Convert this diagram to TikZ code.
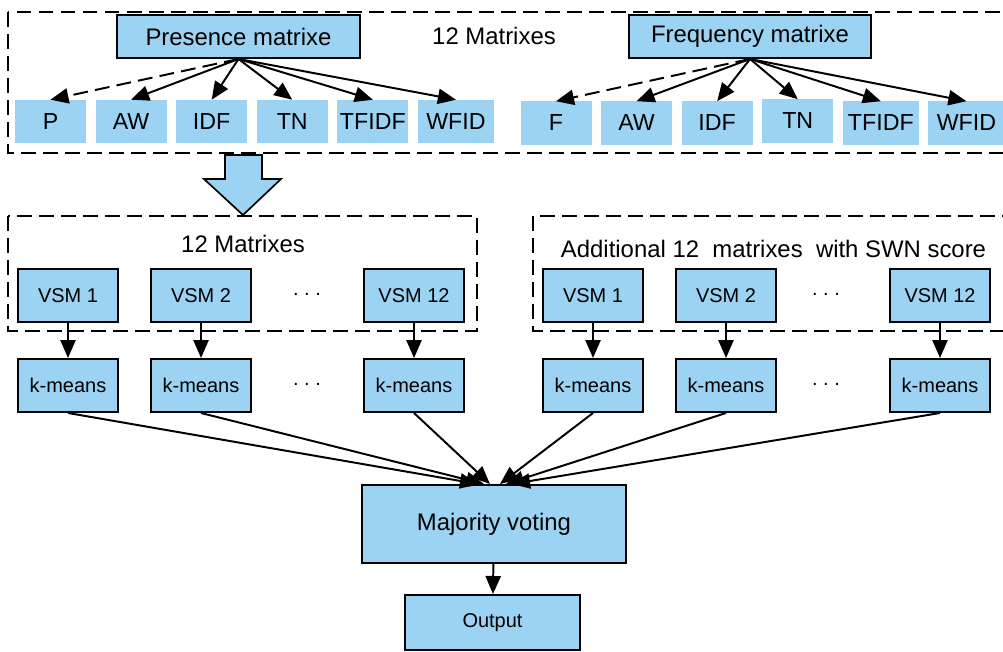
\documentclass[tikz,border=0pt]{standalone}
\usepackage{fontspec}
\setmainfont{Liberation Sans}
\usetikzlibrary{arrows.meta,positioning}
\definecolor{boxblue}{RGB}{157,211,242}
\tikzset{
    %Define style for the two source matrices
    parent/.style={
           draw, fill=boxblue, line width=1.4pt,
           minimum width=6.05cm, minimum height=1.075cm, inner sep=0pt,
           font=\fontsize{17}{20}\selectfont},
    %Define style for the weighting boxes
    leaf/.style={
           fill=boxblue,
           minimum width=1.775cm, minimum height=1.075cm, inner sep=0pt,
           font=\fontsize{16.5}{20}\selectfont},
    %Define style for VSM and k-means boxes
    vsm/.style={
           draw, fill=boxblue, line width=1.4pt,
           minimum width=2.5cm, minimum height=1.325cm, inner sep=0pt,
           font=\fontsize{14.2}{17}\selectfont},
    % dashed group frames
    group/.style={
           draw, line width=1.4pt,
           dash pattern=on 0.37cm off 0.18cm},
    title/.style={
           font=\fontsize{17}{20}\selectfont},
    dots/.style={
           font=\fontsize{14.2}{17}\selectfont},
    % Define arrow style
    pil/.style={
           -{Triangle[length=0.45cm,width=0.38cm]},
           line width=1.4pt}
}
\begin{document}
\begin{tikzpicture}[x=0.025cm, y=-0.025cm]
	\useasboundingbox (0,0) rectangle (1003,651);

	% top group
	\draw[group] (8,12) rectangle (1012,153);
	\node[parent] (pres) at (238.5,36.5) {Presence matrixe};
	\node[title] (top-name) at (494,36) {12 Matrixes};
	\node[parent] (freq) at (750,36.5) {Frequency matrixe};

	% presence leaves
	\node[leaf] (pres-p) at (50.5,121.5) {P};
	\node[leaf, right=0.225cm of pres-p] (pres-aw) {AW};
	\node[leaf, right=0.225cm of pres-aw] (pres-idf) {IDF};
	\node[leaf, right=0.225cm of pres-idf] (pres-tn) {TN};
	\node[leaf, right=0.225cm of pres-tn] (pres-tfidf) {TFIDF};
	\node[leaf, right=0.225cm of pres-tfidf, minimum width=1.9cm] (pres-wfid) {WFID};

	\draw[pil, dash pattern=on 0.37cm off 0.18cm] (pres.south) -- (pres-p.north);
	\draw[pil] (pres.south) -- (pres-aw.north);
	\draw[pil] (pres.south) -- (pres-idf.north);
	\draw[pil] (pres.south) -- (pres-tn.north);
	\draw[pil] (pres.south) -- (pres-tfidf.north);
	\draw[pil] (pres.south) -- (pres-wfid.north);

	% frequency leaves
	\node[leaf] (freq-f) at (556,123) {F};
	\node[leaf, right=0.225cm of freq-f] (freq-aw) {AW};
	\node[leaf, right=0.225cm of freq-aw] (freq-idf) {IDF};
	\node[leaf, right=0.225cm of freq-idf, yshift=0.05cm] (freq-tn) {TN};
	\node[leaf, right=0.225cm of freq-tn, yshift=-0.05cm, minimum width=1.9cm] (freq-tfidf) {TFIDF};
	\node[leaf, right=0.225cm of freq-tfidf, minimum width=1.9cm] (freq-wfid) {WFID};

	\draw[pil, dash pattern=on 0.37cm off 0.18cm] (freq.south) -- (freq-f.north);
	\draw[pil] (freq.south) -- (freq-aw.north);
	\draw[pil] (freq.south) -- (freq-idf.north);
	\draw[pil] (freq.south) -- (freq-tn.north);
	\draw[pil] (freq.south) -- (freq-tfidf.north);
	\draw[pil] (freq.south) -- (freq-wfid.north);

	% block arrow
	\draw[line width=1.2pt, fill=boxblue] (225,155) -- (262,155) -- (262,179) -- (281,179)
	      -- (243,215) -- (204,179) -- (225,179) -- cycle;

	% left group
	\draw[group] (8,216) rectangle (477,331);
	\node[title] (left-name) at (243,244) {12 Matrixes};

	\node[vsm] (vsm-a1) at (68,295.5) {VSM 1};
	\node[vsm, right=0.775cm of vsm-a1] (vsm-a2) {VSM 2};
	\node[dots] (vsm-adots) at (307,294) {.\ .\ .};
	\node[vsm] (vsm-a12) at (414,295.5) {VSM 12};

	\node[vsm, below=0.875cm of vsm-a1] (km-a1) {k-means};
	\node[vsm, below=0.875cm of vsm-a2] (km-a2) {k-means};
	\node[dots] (km-adots) at (307,384) {.\ .\ .};
	\node[vsm, below=0.875cm of vsm-a12] (km-a12) {k-means};

	\draw[pil] (vsm-a1) -- (km-a1);
	\draw[pil] (vsm-a2) -- (km-a2);
	\draw[pil] (vsm-a12) -- (km-a12);

	% right group
	\draw[group] (533,216) rectangle (1012,331);
	\node[title] (right-name) at (773.5,249) {Additional 12~ matrixes~ with SWN score};

	\node[vsm] (vsm-b1) at (593,295.5) {VSM 1};
	\node[vsm, right=0.775cm of vsm-b1] (vsm-b2) {VSM 2};
	\node[dots] (vsm-bdots) at (826,294) {.\ .\ .};
	\node[vsm] (vsm-b12) at (940,295.5) {VSM 12};

	\node[vsm, below=0.875cm of vsm-b1] (km-b1) {k-means};
	\node[vsm, below=0.875cm of vsm-b2] (km-b2) {k-means};
	\node[dots] (km-bdots) at (826,384) {.\ .\ .};
	\node[vsm, below=0.875cm of vsm-b12] (km-b12) {k-means};

	\draw[pil] (vsm-b1) -- (km-b1);
	\draw[pil] (vsm-b2) -- (km-b2);
	\draw[pil] (vsm-b12) -- (km-b12);

	% voting
	\node[vsm, minimum width=6.6cm, minimum height=1.95cm, font=\fontsize{17}{20}\selectfont] (vote) at (494,524) {Majority voting};
	\node[vsm, minimum width=4.375cm, minimum height=1.375cm] (out) at (492.5,622.5) {Output};

	\draw[pil] (km-a1.south) -- ([xshift=-0.4cm]vote.north);
	\draw[pil] (km-a2.south) -- ([xshift=-0.25cm]vote.north);
	\draw[pil] (km-a12.south) -- ([xshift=-0.1cm]vote.north);
	\draw[pil] (km-b1.south) -- ([xshift=0.15cm]vote.north);
	\draw[pil] (km-b2.south) -- ([xshift=0.3cm]vote.north);
	\draw[pil] (km-b12.south) -- ([xshift=0.45cm]vote.north);

	\draw[pil] (vote) -- (out);

\end{tikzpicture}
\end{document}
